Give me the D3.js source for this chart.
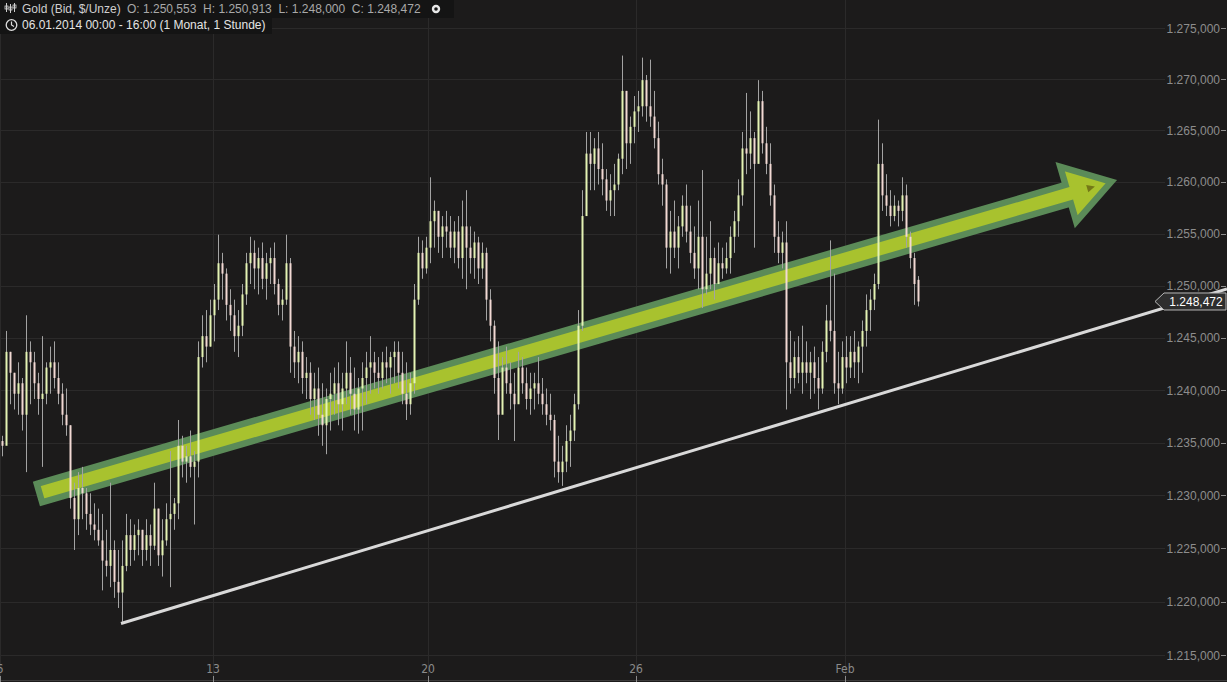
<!DOCTYPE html>
<html><head><meta charset="utf-8">
<script src="https://cdn.jsdelivr.net/npm/d3@7"></script>
<style>
html,body{margin:0;padding:0;background:#1c1b1b;overflow:hidden}
svg{display:block}
text{white-space:pre}
</style></head><body>
<svg id="c" width="1227" height="682"></svg>
<script>
// ---- data (hourly gold bars; price axis is logarithmic) ----
const highs = [1235.65,1245.65,1243.65,1241.65,1242.65,1241.15,1247.15,1244.65,1243.65,1241.65,1245.15,1242.65,1244.15,1244.65,1242.65,1240.65,1240.15,1236.65,1231.2,1232.2,
1232.7,1230.7,1230.2,1229.25,1228.75,1228.25,1226.75,1231.2,1225.75,1224.85,1225.75,1228.25,1227.75,1227.25,1227.75,1226.75,1227.75,1227.25,1231.2,1228.75,
1227.75,1229.25,1234.2,1229.75,1237.15,1235.65,1234.7,1236.15,1234.2,1244.65,1247.15,1247.65,1248.65,1250.15,1254.9,1253.15,1251.65,1249.65,1248.65,1247.65,
1250.15,1253.15,1254.7,1254.35,1253.65,1254.15,1253.15,1253.65,1254.15,1250.65,1249.65,1254.9,1252.65,1245.65,1245.15,1244.65,1243.15,1242.65,1241.65,1242.15,
1240.65,1240.15,1241.65,1242.15,1242.65,1241.65,1244.65,1243.15,1242.15,1241.15,1242.65,1243.65,1245.15,1243.65,1243.15,1243.65,1244.15,1243.65,1244.65,1244.65,
1243.65,1242.65,1241.65,1250.15,1254.7,1254.35,1254.7,1260.45,1258.2,1257.2,1256.7,1257.2,1256.7,1256.2,1256.7,1258.2,1259.2,1255.7,1255.2,1254.7,
1254.15,1253.65,1249.65,1246.65,1244.65,1243.15,1244.15,1242.65,1241.65,1243.65,1243.15,1242.15,1241.65,1241.65,1243.15,1241.15,1240.15,1239.65,1237.65,1235.65,
1234.7,1236.65,1237.65,1239.65,1247.65,1259.2,1264.85,1264.85,1264.25,1264.85,1263.75,1261.25,1260.75,1261.75,1262.75,1272.3,1268.85,1266.35,1268.35,1268.85,
1272.1,1270.4,1271.9,1268.85,1265.85,1262.25,1260.25,1257.2,1258.2,1256.7,1258.7,1259.75,1257.7,1255.7,1258.2,1261.15,1254.7,1256.2,1253.65,1254.15,
1253.65,1254.15,1255.7,1257.2,1260.25,1264.85,1268.65,1266.85,1264.85,1269.9,1268.85,1265.35,1263.75,1259.75,1256.2,1255.2,1256.2,1245.65,1244.65,1245.15,
1246.15,1244.65,1243.65,1244.15,1243.15,1244.65,1248.15,1254.35,1251.15,1243.65,1244.65,1245.15,1245.15,1245.65,1244.65,1246.65,1249.15,1249.65,1251.15,1266.05,
1263.75,1260.75,1259.2,1258.7,1258.2,1260.45,1259.75,1255.2,1253.15,1250.913];
const lows = [1233.7,1237.15,1238.65,1238.15,1237.65,1236.15,1232.2,1238.65,1239.15,1237.65,1232.7,1238.65,1239.65,1240.15,1238.65,1236.65,1235.65,1228.75,1224.85,1226.25,
1227.75,1226.75,1226.25,1225.75,1225.25,1221.05,1222.35,1221.35,1220.35,1219.4,1218.1,1222.85,1223.35,1223.85,1224.35,1223.35,1223.85,1223.35,1224.85,1223.35,
1222.35,1225.25,1221.35,1226.75,1227.75,1231.7,1231.2,1231.7,1227.25,1231.7,1242.15,1242.65,1244.15,1244.65,1247.65,1248.65,1246.65,1245.65,1243.65,1243.15,
1245.15,1248.15,1250.15,1249.65,1249.15,1249.65,1248.65,1250.15,1249.15,1247.15,1246.65,1248.15,1241.65,1241.15,1240.65,1239.65,1239.15,1237.65,1237.15,1235.65,
1234.7,1233.9,1236.15,1237.65,1236.65,1236.15,1238.65,1237.65,1236.15,1235.85,1236.15,1238.65,1239.65,1240.15,1239.65,1240.15,1240.65,1239.65,1240.65,1240.15,
1238.65,1237.15,1237.65,1239.65,1248.15,1250.65,1251.15,1252.15,1253.65,1253.15,1252.65,1253.65,1252.65,1252.15,1251.65,1250.65,1249.65,1251.15,1250.65,1250.15,
1250.65,1246.65,1244.65,1239.65,1235.25,1238.65,1239.65,1238.15,1235.15,1239.65,1239.65,1238.15,1237.65,1238.15,1238.65,1237.65,1236.65,1236.15,1231.7,1231.2,
1230.9,1232.2,1232.7,1235.15,1238.15,1245.65,1256.7,1259.2,1259.2,1259.75,1258.7,1257.2,1256.7,1256.7,1259.2,1260.75,1261.25,1261.75,1263.75,1264.85,
1266.35,1265.85,1265.35,1263.25,1259.75,1257.7,1251.65,1251.15,1252.65,1251.65,1254.7,1254.15,1252.15,1250.65,1249.65,1247.85,1249.15,1249.65,1248.65,1250.15,
1250.65,1251.15,1251.15,1253.15,1254.7,1257.7,1260.75,1261.25,1253.65,1262.75,1262.75,1260.75,1257.7,1253.15,1252.15,1251.65,1238.15,1239.65,1240.15,1240.65,
1239.65,1240.65,1239.15,1239.65,1238.15,1239.65,1242.65,1244.65,1239.65,1238.65,1239.65,1240.65,1241.15,1241.15,1240.65,1241.65,1244.15,1245.65,1247.65,1249.65,
1257.2,1256.7,1255.7,1256.2,1255.7,1256.2,1253.65,1251.65,1248.15,1248.0];
const closes = [1234.7,1243.65,1241.65,1239.65,1240.65,1237.65,1243.65,1242.65,1240.65,1239.15,1239.65,1242.15,1242.65,1241.15,1239.65,1237.65,1236.65,1229.75,1227.75,1230.7,
1230.2,1228.25,1227.25,1226.75,1225.75,1223.85,1223.35,1224.85,1221.85,1220.85,1223.35,1226.25,1224.85,1226.25,1226.75,1224.85,1226.25,1225.25,1228.75,1224.35,
1225.75,1227.75,1228.25,1229.25,1234.7,1233.2,1233.7,1232.7,1233.2,1243.15,1245.15,1244.15,1247.15,1248.65,1252.15,1251.15,1248.15,1247.15,1245.15,1246.15,
1249.15,1252.15,1253.15,1251.65,1252.65,1250.65,1252.15,1252.65,1250.15,1248.15,1248.65,1252.15,1244.15,1242.65,1243.65,1241.15,1241.65,1239.15,1240.15,1237.65,
1236.65,1239.15,1239.65,1240.65,1238.65,1240.15,1241.65,1239.65,1238.15,1240.15,1241.15,1242.15,1242.65,1241.65,1241.15,1242.65,1242.15,1243.15,1243.65,1241.65,
1239.65,1238.65,1240.65,1248.65,1253.15,1251.65,1253.65,1256.2,1257.2,1254.7,1255.7,1255.2,1253.65,1255.2,1252.65,1255.7,1253.65,1252.65,1254.15,1251.65,
1253.15,1248.65,1246.15,1241.15,1237.65,1242.15,1240.65,1239.65,1238.65,1242.15,1240.65,1239.15,1240.15,1240.65,1239.65,1238.65,1237.65,1237.15,1233.2,1232.2,
1233.2,1235.15,1236.15,1238.65,1246.15,1256.7,1262.75,1261.75,1263.25,1261.25,1260.25,1258.2,1259.2,1259.75,1262.25,1268.85,1263.75,1265.35,1266.85,1267.35,
1269.9,1267.35,1266.35,1264.25,1260.75,1259.75,1253.65,1255.2,1253.65,1255.7,1257.7,1255.2,1253.15,1251.65,1254.7,1249.65,1251.15,1252.65,1250.15,1252.15,
1251.65,1252.65,1254.7,1256.2,1258.7,1263.25,1262.75,1264.25,1261.75,1267.85,1263.75,1261.75,1258.7,1254.7,1253.15,1254.15,1242.65,1241.15,1243.15,1241.65,
1242.65,1241.65,1242.65,1241.15,1240.15,1243.65,1246.65,1245.65,1240.65,1240.15,1243.15,1242.15,1243.65,1242.65,1244.15,1245.65,1247.65,1248.65,1250.15,1261.75,
1258.7,1257.7,1256.7,1257.7,1257.2,1258.7,1254.7,1252.65,1250.15,1248.472];
const firstOpen = 1235.15;
const lastOpen = 1250.553;
const yTicks = [1215,1220,1225,1230,1235,1240,1245,1250,1255,1260,1265,1270,1275];
const dateTickIdx = [0, 53.25, 107, 159, 211.25];
const dateLabels = ["6","13","20","26","Feb"];
const trendLine = [{i:30.25,p:1217.95},{i:306.75,p:1249.67}];
const arrowTail = {i:9.1,p:1230.13};
const arrowTip = {i:279.25,p:1260.19};
const headerTitle = "Gold (Bid, $/Unze)";
const headerOHLC = "O: 1.250,553  H: 1.250,913  L: 1.248,000  C: 1.248,472";
const headerRange = "06.01.2014 00:00 - 16:00 (1 Monat, 1 Stunde)";

// ---- drawing ----
const svg = d3.select("#c");
const W = 1227, H = 682;
const x = d3.scaleLinear().domain([0,230]).range([0,920]);
const y = d3.scaleLog().domain([1215,1275]).range([655,28]);
const de = d3.formatLocale({decimal:",",thousands:".",grouping:[3],currency:["","€"]});
const fmt = de.format(",.3f");
const plotRight = 1165;
const FONT = "'Liberation Sans',Arial,sans-serif";

svg.append("rect").attr("width",W).attr("height",H).attr("fill","#1c1b1b");

// grid
svg.append("g").selectAll("line").data(yTicks).join("line")
  .attr("x1",0).attr("x2",plotRight).attr("y1",d=>Math.round(y(d))+0.5).attr("y2",d=>Math.round(y(d))+0.5)
  .attr("stroke","#2b2a2a").attr("stroke-width",1);
svg.append("g").selectAll("line").data(dateTickIdx).join("line")
  .attr("x1",d=>Math.round(x(d))+0.5).attr("x2",d=>Math.round(x(d))+0.5).attr("y1",0).attr("y2",676)
  .attr("stroke","#2b2a2a").attr("stroke-width",1);

// y axis labels
const ya = svg.append("g");
ya.selectAll("text").data(yTicks).join("text")
  .attr("x",1220).attr("y",d=>y(d)+4.5).attr("text-anchor","end")
  .attr("font-family",FONT).attr("font-size",12)
  .attr("fill","#8d8d8d").text(d=>fmt(d));
ya.selectAll("line").data(yTicks).join("line")
  .attr("x1",1221).attr("x2",1226).attr("y1",d=>Math.round(y(d))+0.5).attr("y2",d=>Math.round(y(d))+0.5)
  .attr("stroke","#8d8d8d");

// x axis
svg.append("line").attr("x1",0).attr("x2",W).attr("y1",680.5).attr("y2",680.5).attr("stroke","#3c3b3b");
const xa = svg.append("g");
xa.selectAll("text").data(dateTickIdx).join("text")
  .attr("x",d=>x(d)).attr("y",673).attr("text-anchor","middle")
  .attr("font-family","'Liberation Sans Narrow','DejaVu Sans Condensed',sans-serif").attr("font-size",12)
  .attr("fill","#8a8a8a").text((d,i)=>dateLabels[i]);
xa.selectAll("line").data(dateTickIdx).join("line")
  .attr("x1",d=>Math.round(x(d))+0.5).attr("x2",d=>Math.round(x(d))+0.5).attr("y1",676).attr("y2",682)
  .attr("stroke","#8a8a8a");

// arrow annotation
const T0=[x(arrowTail.i), y(arrowTail.p)], T1=[x(arrowTip.i), y(arrowTip.p)];
const adx=T1[0]-T0[0], ady=T1[1]-T0[1], AL=Math.hypot(adx,ady);
const ux=adx/AL, uy=ady/AL, nx=-uy, ny=ux;
const pt=(a,b)=>[T0[0]+ux*a+nx*b, T0[1]+uy*a+ny*b];
const shaftHW=9.6, headHW=28.7, headBack=AL-50.8, tipA=AL-5.9, tailA=3.2;
const arrowPts=[pt(tailA,-shaftHW),pt(headBack,-shaftHW),pt(headBack,-headHW),pt(tipA,0),
  pt(headBack,headHW),pt(headBack,shaftHW),pt(tailA,shaftHW)];
svg.append("path").attr("d","M"+arrowPts.map(p=>p.join(",")).join("L")+"Z")
  .attr("fill","#a8c22e").attr("stroke","#5b8b58").attr("stroke-width",6.4).attr("stroke-linejoin","miter");
const mk=[pt(AL-23,0),pt(AL-31,-3.8),pt(AL-31,3.8)];
svg.append("path").attr("d","M"+mk.map(p=>p.join(",")).join("L")+"Z").attr("fill","#747817");

// bars
const bars = closes.map((c,i)=>({i, h:highs[i], l:lows[i], c,
  o: i===closes.length-1 ? lastOpen : (i===0 ? firstOpen : closes[i-1])}));
const bg = svg.append("g");
bg.selectAll("line").data(bars).join("line")
  .attr("x1",d=>Math.round(x(d.i+0.5))+0.5).attr("x2",d=>Math.round(x(d.i+0.5))+0.5)
  .attr("y1",d=>y(d.h)).attr("y2",d=>y(d.l))
  .attr("stroke","#a3a3a3").attr("stroke-width",1);
bg.selectAll("rect").data(bars).join("rect")
  .attr("x",d=>Math.round(x(d.i+0.5))-0.5).attr("width",2)
  .attr("y",d=>y(Math.max(d.o,d.c))).attr("height",d=>Math.max(1,Math.abs(y(d.o)-y(d.c))))
  .attr("fill",d=>d.c>=d.o ? "#e4f3b4" : "#f2d9d4");

// trend line
svg.append("line")
  .attr("x1",x(trendLine[0].i)).attr("y1",y(trendLine[0].p))
  .attr("x2",x(trendLine[1].i)).attr("y2",y(trendLine[1].p))
  .attr("stroke","#d9d9d9").attr("stroke-width",3);

// last price label
const lc = closes[closes.length-1], ly = y(lc);
svg.append("path")
  .attr("d",`M1155,${ly}L1164,${ly-8.5}L1226,${ly-8.5}L1226,${ly+8.5}L1164,${ly+8.5}Z`)
  .attr("fill","#2e2e2e").attr("stroke","#b8b8b8").attr("stroke-width",1);
svg.append("text").attr("x",1196).attr("y",ly+4.5).attr("text-anchor","middle")
  .attr("font-family",FONT).attr("font-size",12)
  .attr("fill","#ffffff").text(fmt(lc));

// header
const hd = svg.append("g").attr("font-family",FONT).attr("font-size",12);
hd.append("rect").attr("x",0).attr("y",0).attr("width",454).attr("height",18).attr("fill","#141414");
hd.append("rect").attr("x",0).attr("y",17).attr("width",272).attr("height",17).attr("fill","#141414");
[[6,3,12,6,9],[10,4,13,7,10],[14,3,12,5,8]].forEach(([cx,t,b,bt,bb])=>{
  hd.append("line").attr("x1",cx+0.5).attr("x2",cx+0.5).attr("y1",t).attr("y2",b).attr("stroke","#cfcfcf");
  hd.append("rect").attr("x",cx-1).attr("y",bt).attr("width",3).attr("height",bb-bt).attr("fill","none").attr("stroke","#cfcfcf").attr("stroke-width",0.8);
});
hd.append("text").attr("x",22).attr("y",13).attr("fill","#cfcfcf").text(headerTitle);
hd.append("text").attr("x",127).attr("y",13).attr("fill","#a9a9a9").text(headerOHLC);
hd.append("circle").attr("cx",436).attr("cy",9).attr("r",4.2).attr("fill","#e8e8e8");
hd.append("circle").attr("cx",436).attr("cy",9).attr("r",1.8).attr("fill","#141414");
hd.append("circle").attr("cx",11.5).attr("cy",25).attr("r",5.3).attr("fill","none").attr("stroke","#dddddd").attr("stroke-width",1.3);
hd.append("path").attr("d","M11.5,21.5L11.5,25L14,26.5").attr("fill","none").attr("stroke","#dddddd").attr("stroke-width",1.2);
hd.append("text").attr("x",22).attr("y",29).attr("fill","#e4e4e4").text(headerRange);
</script>
</body></html>
